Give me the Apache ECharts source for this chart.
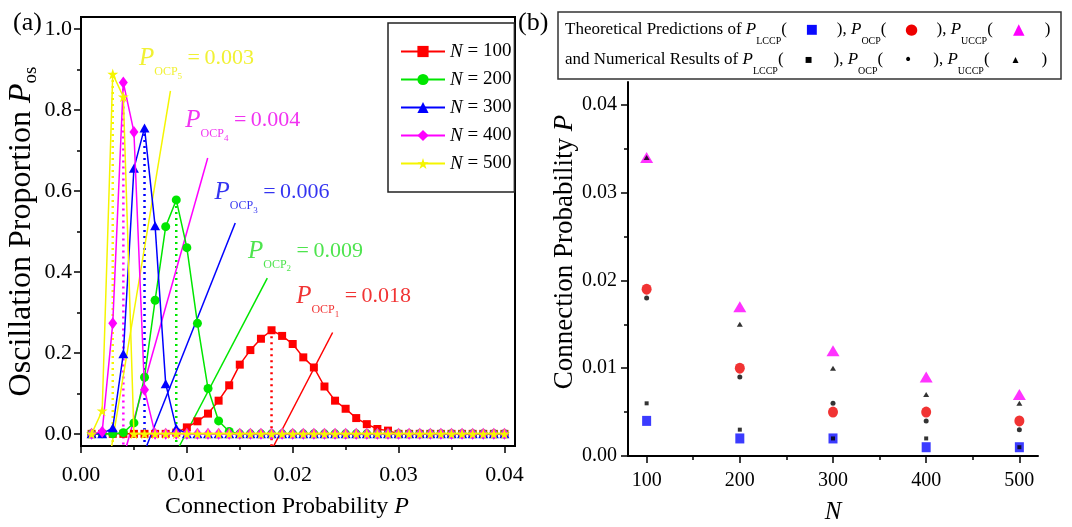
<!DOCTYPE html>
<html><head><meta charset="utf-8">
<script src="https://cdn.jsdelivr.net/npm/echarts@6/dist/echarts.min.js"></script>
<style>html,body{margin:0;padding:0;background:#fff}#c{width:1072px;height:527px}</style>
</head><body><div id="c"></div>
<script>
// ---------- Panel (a) data ----------
const connProb = [0.001,0.002,0.003,0.004,0.005,0.006,0.007,0.008,0.009,0.010,
                  0.011,0.012,0.013,0.014,0.015,0.016,0.017,0.018,0.019,0.020,
                  0.021,0.022,0.023,0.024,0.025,0.026,0.027,0.028,0.029,0.030,
                  0.031,0.032,0.033,0.034,0.035,0.036,0.037,0.038,0.039,0.040];
const osc100 = [0,0,0,0,0,0,0,0,0.003,0.016,0.031,0.050,0.082,0.120,0.171,0.207,0.235,0.256,0.242,0.222,
                0.189,0.164,0.117,0.082,0.062,0.039,0.024,0.012,0.008,0,0,0,0,0,0,0,0,0,0,0];
const osc200 = [0,0,0,0.003,0.027,0.140,0.330,0.512,0.578,0.460,0.273,0.112,0.032,0.006,0,0,0,0,0,0,
                0,0,0,0,0,0,0,0,0,0,0,0,0,0,0,0,0,0,0,0];
const osc300 = [0,0,0.015,0.198,0.656,0.756,0.514,0.124,0.014,0,0,0,0,0,0,0,0,0,0,0,
                0,0,0,0,0,0,0,0,0,0,0,0,0,0,0,0,0,0,0,0];
const osc400 = [0,0.005,0.273,0.868,0.746,0.109,0,0,0,0,0,0,0,0,0,0,0,0,0,0,
                0,0,0,0,0,0,0,0,0,0,0,0,0,0,0,0,0,0,0,0];
const osc500 = [0,0.057,0.889,0.833,0,0,0,0,0,0,0,0,0,0,0,0,0,0,0,0,
                0,0,0,0,0,0,0,0,0,0,0,0,0,0,0,0,0,0,0,0];
const networkSizes = [100,200,300,400,500];
const ocpText = ['0.018','0.009','0.006','0.004','0.003'];
// callout lines (data units): base x on the bottom edge, and top end point
const calloutBaseP = [0.0182,0.0093,0.0062,0.0043,0.0029];
const calloutTop = [[0.02377,0.2505],[0.0176,0.3847],[0.01457,0.5208],[0.01197,0.6817],[0.00845,0.8475]];
const calloutLabelAt = [[0.02032,0.340],[0.01577,0.452],[0.01261,0.597],[0.00985,0.775],[0.00547,0.928]];
const aXTicks = [0,0.01,0.02,0.03,0.04];
const aXMinor = [0.005,0.015,0.025,0.035];
const aYTicks = [0,0.2,0.4,0.6,0.8,1.0];
const aYMinor = [0.1,0.3,0.5,0.7,0.9];

// ---------- Panel (b) data ----------
const nCats = [100,200,300,400,500];
const theoLCCP = [0.004,0.002,0.002,0.001,0.001];
const theoOCP  = [0.019,0.010,0.005,0.005,0.004];
const theoUCCP = [0.034,0.017,0.012,0.009,0.007];
const numLCCP  = [0.006,0.003,0.002,0.002,0.001];
const numOCP   = [0.018,0.009,0.006,0.004,0.003];
const numUCCP  = [0.034,0.015,0.010,0.007,0.006];
const bXTicks = [100,200,300,400,500];
const bXMinor = [150,250,350,450];
const bYTicks = [0,0.01,0.02,0.03,0.04];
const bYMinor = [0.005,0.015,0.025,0.035];

// ---------- build ----------
const FONT = '"Liberation Serif","Times New Roman",serif';
const SYMF = '"DejaVu Sans",sans-serif';
const AY_MIN = -0.03, AY_MAX = 1.03, AX_MIN = 0, AX_MAX = 0.041;
const BX_MIN = 80, BX_MAX = 520, BY_MIN = 0, BY_MAX = 0.0426;
const cols = ['#ff0000','#00e600','#0000ff','#ff00ff','#f5f500'];
const textCols = ['#ee0000','#22dd22','#0000ee','#ee00ee','#eeee00'];
const STAR = 'path://M0,-1L0.2245,-0.309L0.951,-0.309L0.363,0.118L0.588,0.809L0,0.382L-0.588,0.809L-0.363,0.118L-0.951,-0.309L-0.2245,-0.309Z';
const syms = ['rect','circle','triangle','diamond',STAR];
const symSizes = [8,9,[10,9],[9,12],11];
const curves = [osc100,osc200,osc300,osc400,osc500];

function majorAxis(grid, min, max, ticks, fmt, margin, fs, extra){
  return Object.assign({
    type:'value', gridIndex:grid, min:min, max:max,
    axisLine:{show:true, onZero:false, lineStyle:{color:'#000', width:2}},
    axisTick:{show:true, inside:false, customValues:ticks, length:7, lineStyle:{color:'#000', width:1.5}},
    axisLabel:{show:true, customValues:ticks, formatter:fmt, margin:margin, color:'#000', fontFamily:FONT, fontSize:fs},
    splitLine:{show:false}
  }, extra||{});
}
function minorAxis(grid, min, max, ticks, pos){
  return {
    type:'value', gridIndex:grid, min:min, max:max, position:pos,
    axisLine:{show:false, onZero:false},
    axisTick:{show:true, inside:false, customValues:ticks, length:4, lineStyle:{color:'#000', width:1.5}},
    axisLabel:{show:false}, splitLine:{show:false}
  };
}

const series = [];
// callout straight lines and peak drop lines (under markers)
curves.forEach((arr,k)=>{
  const pk = arr.indexOf(Math.max.apply(null, arr));
  series.push({type:'line', xAxisIndex:0, yAxisIndex:0, symbol:'none', silent:true, z:2,
    data:[[connProb[pk], arr[pk]],[connProb[pk], AY_MIN]],
    lineStyle:{color:cols[k], width:2.5, type:[2,4]}});
  series.push({type:'line', xAxisIndex:0, yAxisIndex:0, symbol:'none', silent:true, z:2,
    data:[[calloutBaseP[k], AY_MIN], calloutTop[k]],
    lineStyle:{color:cols[k], width:1.5}});
});
curves.forEach((arr,k)=>{
  series.push({type:'line', name:String(networkSizes[k]), xAxisIndex:0, yAxisIndex:0,
    data: connProb.map((p,i)=>[p, arr[i]]),
    symbol:syms[k], symbolSize:symSizes[k], showAllSymbol:true,
    lineStyle:{color:cols[k], width:1.5}, itemStyle:{color:cols[k]}, z:3+k});
});
// callout labels
curves.forEach((arr,k)=>{
  series.push({type:'scatter', xAxisIndex:0, yAxisIndex:0, silent:true, z:10,
    symbolSize:0.1, itemStyle:{color:'rgba(0,0,0,0)'},
    data:[calloutLabelAt[k]],
    label:{show:true, position:'right', distance:0,
      formatter:'{p|P}{s|OCP}{d|' + (k+1) + '}{v| =\u2009' + ocpText[k] + '}',
      rich:{
        p:{fontFamily:FONT, fontStyle:'italic', fontSize:25, color:textCols[k]},
        s:{fontFamily:FONT, fontSize:12, color:textCols[k], padding:[27,0,0,0]},
        d:{fontFamily:FONT, fontSize:9, color:textCols[k], padding:[36,0,0,0]},
        v:{fontFamily:FONT, fontSize:22, color:textCols[k]}
      }}});
});
// panel (b)
const bSets = [
  {d:theoLCCP, sym:'rect', size:[9,10], c:'#0a0aff'},
  {d:theoOCP, sym:'circle', size:[10,11], c:'#ee0000'},
  {d:theoUCCP, sym:'triangle', size:[13,11], c:'#ff00ff'},
  {d:numLCCP, sym:'rect', size:4, c:'#000'},
  {d:numOCP, sym:'circle', size:5, c:'#000'},
  {d:numUCCP, sym:'triangle', size:[6,5], c:'#000'}
];
bSets.forEach((s,i)=>{
  series.push({type:'scatter', xAxisIndex:2, yAxisIndex:2, z:5+i,
    data:nCats.map((n,j)=>[n, s.d[j]]), symbol:s.sym, symbolSize:s.size,
    itemStyle:{color:s.c}});
});

function legendRow(lead, syms){
  const sub = ['LCCP','OCP','UCCP'];
  let t = '{t|' + lead + '}';
  for (let i=0;i<3;i++){
    t += '{p|P}{s|' + sub[i] + '}{t|(}{m' + i + '|' + syms[i] + '}{t|)' + (i<2?', ':'') + '}';
  }
  return t;
}
const rowRich = function(cs, sz){
  return {
    t:{fontFamily:FONT, fontSize:17, fill:'#000'},
    p:{fontFamily:FONT, fontSize:17, fontStyle:'italic', fill:'#000'},
    s:{fontFamily:FONT, fontSize:10, fill:'#000', padding:[22,0,0,0]},
    m0:{fontFamily:SYMF, fontSize:sz[0], fill:cs[0], width:50, align:'center'},
    m1:{fontFamily:SYMF, fontSize:sz[1], fill:cs[1], width:50, align:'center'},
    m2:{fontFamily:SYMF, fontSize:sz[2], fill:cs[2], width:52, align:'center'}
  };
};

const option = {
  backgroundColor:'#fff',
  animation:false,
  grid:[
    {left:81, top:17, width:434, height:429, show:true, borderColor:'#000', borderWidth:2, backgroundColor:'rgba(0,0,0,0)', outerBoundsMode:'none'},
    {left:628, top:82, width:410, height:374, outerBoundsMode:'none'}
  ],
  xAxis:[
    majorAxis(0, AX_MIN, AX_MAX, aXTicks, v=>v.toFixed(2), 18, 22, {
      position:'bottom', name:'Connection Probability {i|P}', nameLocation:'middle', nameGap:49,
      nameTextStyle:{fontFamily:FONT, fontSize:24, color:'#000', padding:[0,22,0,0], rich:{i:{fontFamily:FONT, fontSize:24, fontStyle:'italic', color:'#000'}}}}),
    minorAxis(0, AX_MIN, AX_MAX, aXMinor, 'bottom'),
    majorAxis(1, BX_MIN, BX_MAX, bXTicks, v=>String(Math.round(v)), 15, 20, {
      position:'bottom', name:'N', nameLocation:'middle', nameGap:44,
      nameTextStyle:{fontFamily:FONT, fontSize:25, fontStyle:'italic', color:'#000'}}),
    minorAxis(1, BX_MIN, BX_MAX, bXMinor, 'bottom')
  ],
  yAxis:[
    majorAxis(0, AY_MIN, AY_MAX, aYTicks, v=>v.toFixed(1), 9, 22, {
      position:'left', name:'Oscillation Proportion {i|P}{s|os}', nameLocation:'middle', nameGap:25,
      nameTextStyle:{fontFamily:FONT, fontSize:32, color:'#000', rich:{
        i:{fontFamily:FONT, fontSize:32, fontStyle:'italic', color:'#000'},
        s:{fontFamily:FONT, fontSize:19, color:'#000', padding:[20,0,0,0]}}}}),
    minorAxis(0, AY_MIN, AY_MAX, aYMinor, 'left'),
    majorAxis(1, BY_MIN, BY_MAX, bYTicks, v=>v.toFixed(2), 11, 20, {
      position:'left', name:'Connection Probability {i|P}', nameLocation:'middle', nameGap:44,
      nameTextStyle:{fontFamily:FONT, fontSize:27, color:'#000', padding:[0,0,0,34], rich:{i:{fontFamily:FONT, fontSize:27, fontStyle:'italic', color:'#000'}}}}),
    minorAxis(1, BY_MIN, BY_MAX, bYMinor, 'left')
  ],
  legend:{
    data: networkSizes.map(String), orient:'vertical', left:388, top:23,
    formatter: n => '{i|N} = ' + n,
    textStyle:{fontFamily:FONT, fontSize:19, color:'#000', rich:{i:{fontFamily:FONT, fontSize:19, fontStyle:'italic', color:'#000'}}},
    itemWidth:44, itemHeight:14, itemGap:9,
    backgroundColor:'#fff', borderColor:'#222', borderWidth:1.5, padding:[19,3,19,12]
  },
  graphic:[
    {type:'text', x:13, y:10, style:{text:'(a)', font:'26px ' + FONT, fill:'#000'}},
    {type:'text', x:518, y:10, style:{text:'(b)', font:'26px ' + FONT, fill:'#000'}},
    {type:'rect', x:558, y:12, shape:{x:0, y:0, width:503, height:67}, style:{fill:'#fff', stroke:'#333', lineWidth:1.5}, z:10},
    {type:'text', x:565, y:30, z:11, style:{text:legendRow('Theoretical Predictions of ', ['\u25A0','\u25CF','\u25B2']),
      rich:rowRich(['#0a0aff','#ee0000','#ff00ff'],[13,15,15]), verticalAlign:'middle', align:'left'}},
    {type:'text', x:565, y:60, z:11, style:{text:legendRow('and Numerical Results of ', ['\u25AA','\u2022','\u25B4']),
      rich:rowRich(['#000','#000','#000'],[12,14,12]), verticalAlign:'middle', align:'left'}}
  ],
  series: series
};
const chart = echarts.init(document.getElementById('c'), null, {renderer:'canvas'});
chart.setOption(option);
</script>
</body></html>
